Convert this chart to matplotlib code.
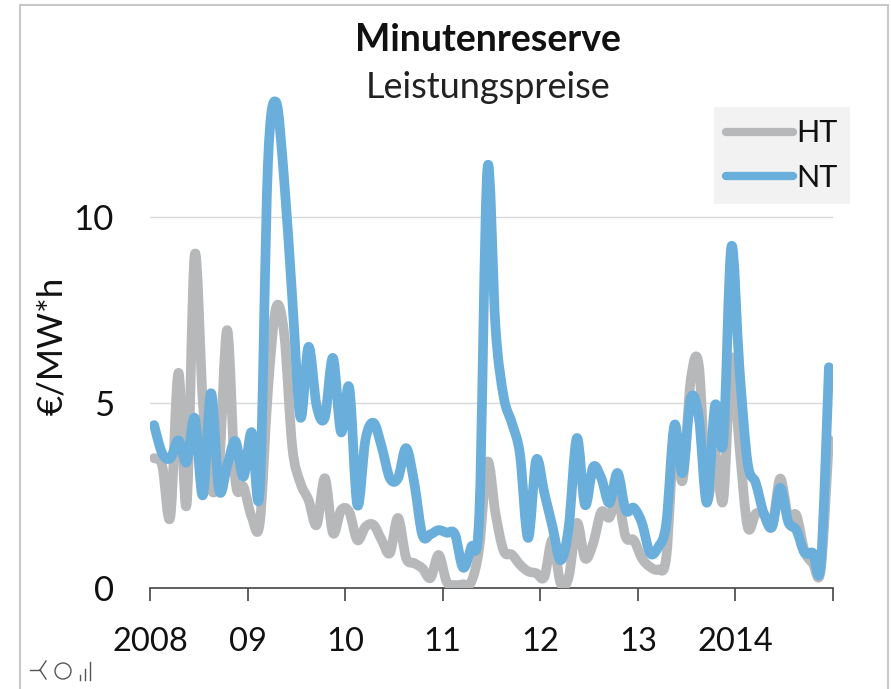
import numpy as np
import matplotlib
matplotlib.use("Agg")
import matplotlib.pyplot as plt
from matplotlib.lines import Line2D
from matplotlib.patches import PathPatch, Rectangle, Circle
from matplotlib.path import Path

plt.rcParams['font.family'] = ['Lato', 'DejaVu Sans']

W, H = 891, 689

# Monatswerte Jan 2008 - Dez 2014, EUR/MW*h
ht = [3.5, 3.3, 1.92, 5.8, 2.24, 8.98, 5.0, 2.7, 3.3, 6.95, 2.9, 2.73,
      1.92, 1.75, 5.3, 7.55, 6.85, 3.8, 2.83, 2.37, 1.7, 2.96, 1.48, 2.1,
      2.05, 1.29, 1.65, 1.7, 1.29, 0.94, 1.89, 0.81, 0.67, 0.53, 0.27, 0.89,
      0.16, 0.08, 0.1, 0.16, 1.1, 3.4, 2.0, 1.0, 0.9, 0.63, 0.45, 0.4,
      0.3, 1.3, 0.13, 0.3, 1.75, 0.8, 1.2, 2.05, 1.9, 2.45, 1.38, 1.29,
      0.8, 0.57, 0.5, 0.84, 4.07, 2.9, 5.6, 6.0, 2.45, 3.63, 2.37, 6.2,
      3.8, 1.65, 2.0, 2.0, 1.65, 2.95, 1.92, 1.96, 1.0, 0.67, 0.5, 4.0]
nt = [4.39, 3.63, 3.5, 3.98, 3.39, 4.58, 2.5, 5.25, 2.64, 3.3, 3.96, 3.0,
      4.2, 2.64, 11.4, 13.1, 11.0, 7.8, 4.6, 6.5, 4.9, 4.6, 6.2, 4.2,
      5.4, 2.24, 4.0, 4.45, 3.8, 2.96, 2.96, 3.77, 2.83, 1.43, 1.45, 1.56,
      1.49, 1.45, 0.55, 1.1, 2.0, 11.3, 7.0, 5.15, 4.45, 3.6, 1.35, 3.45,
      2.56, 1.65, 0.75, 1.65, 4.04, 2.24, 3.26, 2.96, 2.29, 3.1, 2.1, 2.16,
      1.75, 0.94, 1.1, 1.75, 4.39, 3.1, 5.1, 4.6, 2.3, 4.93, 3.93, 9.2,
      5.9, 3.37, 2.83, 2.0, 1.65, 2.7, 1.78, 1.56, 0.95, 0.95, 0.65, 5.95]
jahre = ['2008', '09', '10', '11', '12', '13', '2014']
y_ticks = [0, 5, 10]

grau = '#b7b8ba'
blau = '#6aaedb'


# Excel-artige Glaettung als Bezier-Pfad
def smooth_path(xs, ys):
    pts = np.column_stack([xs, ys])
    verts = [pts[0]]
    codes = [Path.MOVETO]
    for i in range(len(pts) - 1):
        p0 = pts[max(i - 1, 0)]
        p1 = pts[i]
        p2 = pts[i + 1]
        p3 = pts[min(i + 2, len(pts) - 1)]
        verts += [p1 + (p2 - p0) / 6, p2 - (p3 - p1) / 6, p2]
        codes += [Path.CURVE4] * 3
    return Path(verts, codes)


fig = plt.figure(figsize=(W / 100, H / 100), dpi=100)
# Axes in Pixeln der Vorlage
ax = fig.add_axes([150 / W, 1 - 588 / H, (833 - 150) / W, (588 - 68.6) / H])
ax.set_xlim(0, 84)
ax.set_ylim(0, 14)

x = np.arange(len(ht)) + 0.5
for werte, farbe in [(ht, grau), (nt, blau)]:
    ax.add_patch(PathPatch(smooth_path(x, werte), fill=False, edgecolor=farbe,
                           lw=7, capstyle='round', joinstyle='round', zorder=3))

ax.set_xticks(np.arange(0, 85, 12),
              labels=jahre + [''])
ax.tick_params(axis='x', length=9, width=1.2, color='#444444', pad=19,
               labelsize=23.5, labelcolor='#111111')
ax.set_yticks(y_ticks)
ax.tick_params(axis='y', length=0, pad=26, labelsize=25, labelcolor='#111111')
ax.grid(axis='y', color='#d9d9d9', lw=1)
ax.set_axisbelow(True)
for s in ['top', 'right', 'left']:
    ax.spines[s].set_visible(False)
ax.spines['bottom'].set_color('#444444')
ax.spines['bottom'].set_linewidth(1.2)

fig.text(52 / W, 1 - 346 / H, '€/MW*h', rotation=90, ha='center', va='center',
         fontsize=25, color='#111111')
fig.text(488 / W, 1 - 40 / H, 'Minutenreserve', ha='center', va='center',
         fontsize=27, fontweight='bold', color='#111111')
fig.text(488 / W, 1 - 88 / H, 'Leistungspreise', ha='center', va='center',
         fontsize=26, color='#222222')

handles = [Line2D([], [], color=grau, lw=6, solid_capstyle='round'),
           Line2D([], [], color=blau, lw=6, solid_capstyle='round')]
leg = fig.legend(handles, ['HT', 'NT'], loc='upper right',
                 bbox_to_anchor=(850 / W, 1 - 107 / H), bbox_transform=fig.transFigure,
                 fontsize=22, frameon=True, fancybox=False, facecolor='#f2f2f2',
                 edgecolor='none', framealpha=1, handlelength=2.2, handletextpad=0.1,
                 labelspacing=0.55, borderaxespad=0, borderpad=0.4, labelcolor='#111111')

# Rahmen des Screenshots
fig.add_artist(Rectangle((20 / W, -0.01), (888 - 20) / W, 1 + 0.01 - 5 / H,
                         transform=fig.transFigure, fill=False, edgecolor='#c8c8c8', lw=1.5))

# kleine Symbole unten links
ic = '#555555'
fig.add_artist(Line2D([30 / W, 40 / W], [1 - 670 / H] * 2, color=ic, lw=1))
fig.add_artist(Line2D([40 / W, 46 / W], [1 - 670 / H, 1 - 661 / H], color=ic, lw=1))
fig.add_artist(Line2D([40 / W, 46 / W], [1 - 670 / H, 1 - 679 / H], color=ic, lw=1))
fig.add_artist(Circle((63, H - 671), 8, transform=None, fill=False, edgecolor=ic, lw=1))
for bx, top in [(80, 675), (85, 669), (90, 662)]:
    fig.add_artist(Line2D([bx / W] * 2, [1 - 680 / H, 1 - top / H], color=ic, lw=1))

fig.savefig('out.png', dpi=100)
